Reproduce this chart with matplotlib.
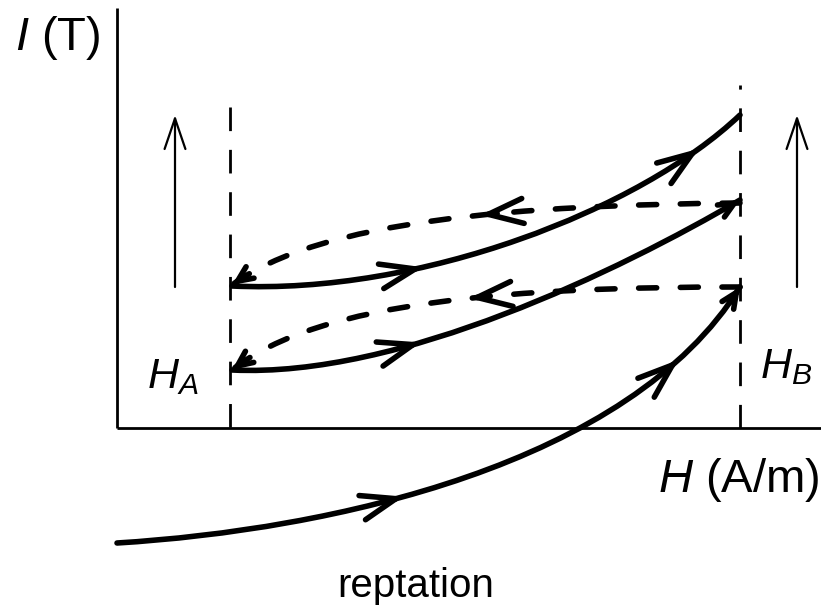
import matplotlib
matplotlib.use("Agg")
import numpy as np
import matplotlib.pyplot as plt
from matplotlib.path import Path
from matplotlib.patches import PathPatch, FancyArrowPatch
from matplotlib.bezier import BezierSegment

plt.rcParams['font.family'] = ['Liberation Sans', 'DejaVu Sans']
plt.rcParams['mathtext.fontset'] = 'custom'
plt.rcParams['mathtext.it'] = 'Liberation Sans:italic'
plt.rcParams['mathtext.rm'] = 'Liberation Sans'
plt.rcParams['lines.scale_dashes'] = False

W, H = 821, 606

# cubic bezier control points for each branch (pixel units, y down)
initial_curve = [(117, 543), (330, 530), (630, 465), (740, 287)]
upper_rise = [(232, 286), (420, 295), (640, 210), (740, 115)]
upper_fall = [(740, 203), (520, 205), (320, 220), (232, 285)]
lower_rise = [(232, 370), (400, 378), (620, 270), (740, 200)]
lower_fall = [(740, 287), (520, 287), (320, 300), (232, 370)]

# bezier parameter of the big arrow heads on each branch
initial_arrows = [0.41, 0.85]
upper_rise_arrows = [0.33, 0.88]
upper_fall_arrows = [0.42]
lower_rise_arrows = [0.35]
lower_fall_arrows = [0.44]

HA_x, HB_x = 230, 740
axis_x, axis_y = 117, 428

CURVE_LW = 4.0
solid_dash = (0, (13.0, 17.0))
line_dash = (0, (17.0, 13.5))


def branch(ax, ctrl, dashed=False):
    p = Path(ctrl, [Path.MOVETO, Path.CURVE4, Path.CURVE4, Path.CURVE4])
    ls = solid_dash if dashed else '-'
    ax.add_patch(PathPatch(p, fill=False, lw=CURVE_LW, ec='black',
                           ls=ls, capstyle='round', joinstyle='round'))


def head(ax, ctrl, t, hl, hw):
    seg = BezierSegment(np.array(ctrl, float))
    tip = seg.point_at_t(t)
    back = seg.point_at_t(t - 0.03)
    ax.add_patch(FancyArrowPatch(back, tip, mutation_scale=1,
                                 arrowstyle=f"->,head_length={hl},head_width={hw}",
                                 lw=CURVE_LW, color='black', shrinkA=0, shrinkB=0))


fig = plt.figure(figsize=(8.21, 6.06), dpi=100)
ax = fig.add_axes([0, 0, 1, 1])
ax.set_xlim(0, W)
ax.set_ylim(H, 0)
ax.axis('off')

# axes
ax.plot([axis_x, axis_x], [8, axis_y], color='black', lw=2, solid_capstyle='butt')
ax.plot([axis_x, W], [axis_y, axis_y], color='black', lw=2, solid_capstyle='butt')

# H_A and H_B limits
ax.plot([HA_x, HA_x], [107, axis_y], color='black', lw=2, ls=line_dash)
ax.plot([HB_x, HB_x], [axis_y, 85], color='black', lw=2, ls=line_dash)

# branches
branch(ax, initial_curve)
branch(ax, upper_rise)
branch(ax, lower_rise)
branch(ax, upper_fall, dashed=True)
branch(ax, lower_fall, dashed=True)

for ctrl, ts in [(initial_curve, initial_arrows), (upper_rise, upper_rise_arrows),
                 (lower_rise, lower_rise_arrows), (upper_fall, upper_fall_arrows),
                 (lower_fall, lower_fall_arrows)]:
    for t in ts:
        head(ax, ctrl, t, 25, 9)

# small heads at branch ends
for ctrl in [initial_curve, lower_rise, upper_fall, lower_fall]:
    head(ax, ctrl, 1.0, 11, 5)

# thin vertical arrows
for xa in [175, 797]:
    ax.add_patch(FancyArrowPatch((xa, 287), (xa, 115), mutation_scale=1,
                                 arrowstyle="->,head_length=22,head_width=7.5",
                                 lw=1.6, color='black', shrinkA=0, shrinkB=0))

# labels
ax.text(15, 50, r"$I$ (T)", fontsize=34, ha='left', va='baseline')
ax.text(820, 492, r"$H$ (A/m)", fontsize=34, ha='right', va='baseline')
ax.text(147, 388, r"$H_A$", fontsize=31, ha='left', va='baseline')
ax.text(760, 378, r"$H_B$", fontsize=31, ha='left', va='baseline')
ax.text(416, 597, "reptation", fontsize=29, ha='center', va='baseline')

fig.savefig("out.png", dpi=100)
